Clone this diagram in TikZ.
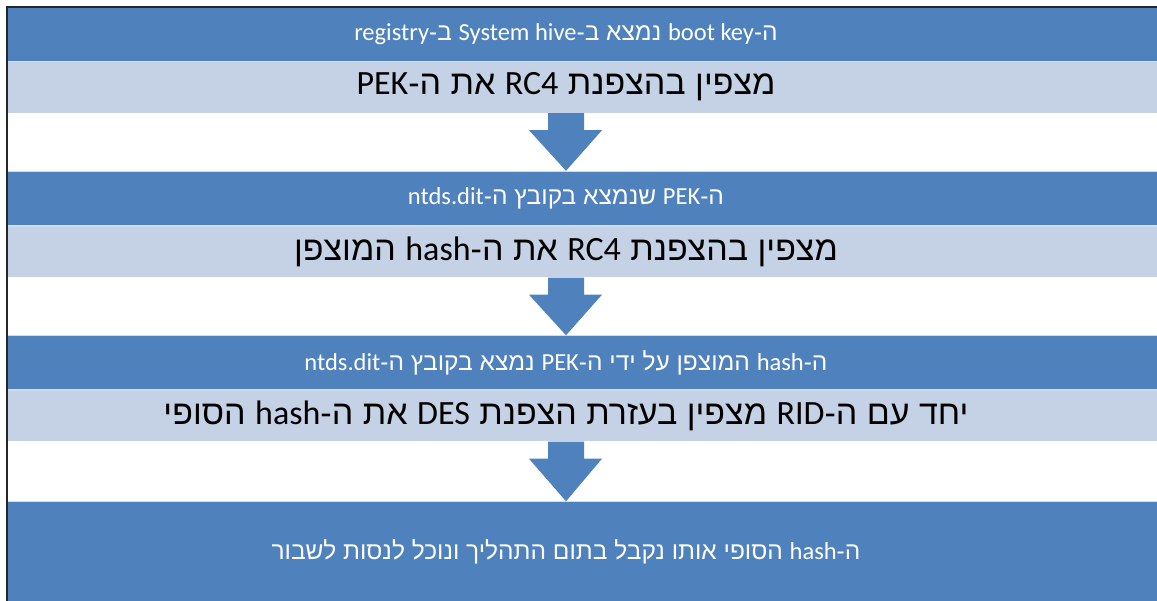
\documentclass[tikz,border=0pt]{standalone}
\usepackage{fontspec}
\TeXXeTstate=1
\newfontfamily\heb[Script=Hebrew]{Liberation Sans}
\newfontfamily\lat{Carlito}
\newcommand\lseg[1]{\beginL{\lat #1}\endL}
\definecolor{bandblue}{HTML}{4F81BD}
\definecolor{bandlight}{HTML}{C5D1E4}
\definecolor{bandedge}{HTML}{D3DCEB}
\tikzset{
  headband/.style={fill=bandblue, text=white, minimum width=1200pt, minimum height=54pt, inner sep=0pt, font=\heb\fontsize{24.5}{27}\selectfont},
  bodyband/.style={fill=bandlight, text=black, minimum width=1200pt, minimum height=52pt, inner sep=0pt, font=\heb\fontsize{34}{38}\selectfont},
  lastband/.style={fill=bandblue, text=white, minimum width=1200pt, minimum height=100pt, inner sep=0pt, font=\heb\fontsize{24.5}{27}\selectfont},
  blockarrow/.style={fill=bandblue, draw=none},
  frame/.style={draw=black!85, line width=2pt}
}
\begin{document}
\begin{tikzpicture}[x=1pt,y=-1pt]
\useasboundingbox (0,0) rectangle (1157,601);
\begin{scope}
\clip (8,8) rectangle (1157,601);
\node[headband] (h1) at (566,34.5) {\beginR ה-\lseg{boot key} נמצא ב-\lseg{System hive} ב-\lseg{registry}\endR};
\node[bodyband] (b1) at (566,87) {\beginR מצפין בהצפנת \lseg{RC4} את ה-\lseg{PEK}\endR};
\node[headband] (h2) at (566,198) {\beginR ה-\lseg{PEK} שנמצא בקובץ ה-\lseg{ntds.dit}\endR};
\node[bodyband] (b2) at (566,251.5) {\beginR מצפין בהצפנת \lseg{RC4} את ה-\lseg{hash} המוצפן\endR};
\node[headband] (h3) at (566,362.5) {\beginR ה-\lseg{hash} המוצפן על ידי ה-\lseg{PEK} נמצא בקובץ ה-\lseg{ntds.dit}\endR};
\node[bodyband] (b3) at (566,415.5) {\beginR יחד עם ה-\lseg{RID} מצפין בעזרת הצפנת \lseg{DES} את ה-\lseg{hash} הסופי\endR};
\node[lastband] (h4) at (566,551.5) {\beginR ה-\lseg{hash} הסופי אותו נקבל בתום התהליך ונוכל לנסות לשבור\endR};
\foreach \n in {b1,b2,b3}{
  \fill[bandedge] (\n.north west) rectangle ([yshift=-1.5pt]\n.north east);
}
\foreach \n in {h2,h3,h4}{
  \fill[bandedge] (\n.north west) rectangle ([yshift=-1pt]\n.north east);
}
\end{scope}
\foreach \a/\b in {b1/h2,b2/h3,b3/h4}{
  \fill[blockarrow] ([xshift=-18pt]\a.south) -- ([xshift=18pt]\a.south)
    -- ([xshift=18pt,yshift=-17pt]\a.south) -- ([xshift=36pt,yshift=-17pt]\a.south)
    -- (\b.north) -- ([xshift=-37pt,yshift=-17pt]\a.south)
    -- ([xshift=-18pt,yshift=-17pt]\a.south) -- cycle;
}
\coordinate (tl) at (7,7);
\coordinate (tr) at (1157,7);
\coordinate (bl) at (7,601);
\draw[frame] (tr) -- (tl) -- (bl);
\end{tikzpicture}
\end{document}
